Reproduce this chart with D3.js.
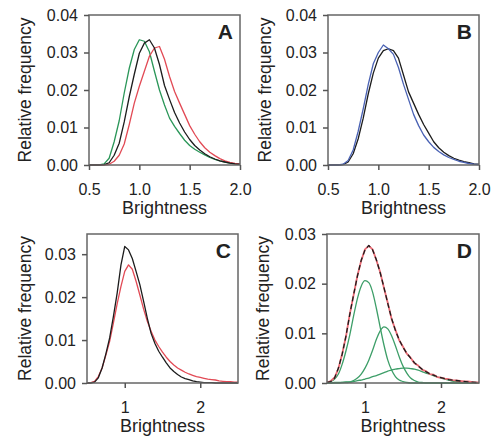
<!DOCTYPE html>
<html>
<head>
<meta charset="utf-8">
<script src="https://cdn.jsdelivr.net/npm/d3@7"></script>
<style>
  body { margin: 0; background: #fff; }
  text { font-family: "Liberation Sans", Arial, sans-serif; fill: #222; }
</style>
</head>
<body>
<div id="chart"></div>
<script>
// brightness bins, panels A and B
const brightnessAB = [0.50, 0.55, 0.60, 0.65, 0.70, 0.75, 0.80, 0.85, 0.90, 0.95,
  1.00, 1.05, 1.10, 1.15, 1.20, 1.25, 1.30, 1.35, 1.40, 1.45,
  1.50, 1.55, 1.60, 1.65, 1.70, 1.75, 1.80, 1.85, 1.90, 1.95, 2.00];

// brightness bins, panels C and D
const brightnessCD = [0.50, 0.55, 0.60, 0.65, 0.70, 0.75, 0.80, 0.85, 0.90, 0.95,
  1.00, 1.05, 1.10, 1.15, 1.20, 1.25, 1.30, 1.35, 1.40, 1.45,
  1.50, 1.55, 1.60, 1.65, 1.70, 1.75, 1.80, 1.85, 1.90, 1.95,
  2.00, 2.05, 2.10, 2.15, 2.20, 2.25, 2.30, 2.35, 2.40, 2.45, 2.50];

// panel A
const aGreen = [0, 0, 0, 0.0003, 0.0018, 0.0062, 0.0118, 0.0192, 0.0258, 0.0308,
  0.0334, 0.0330, 0.0302, 0.0250, 0.0200, 0.0160, 0.0125, 0.0103, 0.0084, 0.0066,
  0.0052, 0.0042, 0.0034, 0.0027, 0.0020, 0.0015, 0.0011, 0.0008, 0.0005, 0.0003, 0.0002];
const aBlack = [0, 0, 0, 0.0001, 0.0006, 0.0026, 0.0058, 0.0115, 0.0182, 0.0242,
  0.0298, 0.0325, 0.0334, 0.0312, 0.0268, 0.0212, 0.0175, 0.0140, 0.0112, 0.0088,
  0.0068, 0.0052, 0.0040, 0.0030, 0.0022, 0.0016, 0.0011, 0.0008, 0.0005, 0.0003, 0.0002];
const aRed = [0, 0, 0, 0, 0.0002, 0.0010, 0.0026, 0.0056, 0.0108, 0.0165,
  0.0210, 0.0250, 0.0290, 0.0312, 0.0316, 0.0282, 0.0236, 0.0196, 0.0165, 0.0135,
  0.0105, 0.0082, 0.0062, 0.0046, 0.0034, 0.0025, 0.0017, 0.0011, 0.0007, 0.0004, 0.0002];

// panel B
const bBlue = [0, 0, 0, 0.0002, 0.0012, 0.0040, 0.0090, 0.0150, 0.0215, 0.0270,
  0.0300, 0.0320, 0.0310, 0.0295, 0.0260, 0.0215, 0.0175, 0.0135, 0.0105, 0.0080,
  0.0062, 0.0047, 0.0036, 0.0027, 0.0020, 0.0015, 0.0010, 0.0007, 0.0004, 0.0002, 0.0001];
const bBlack = [0, 0, 0, 0.0001, 0.0008, 0.0030, 0.0070, 0.0125, 0.0190, 0.0245,
  0.0285, 0.0305, 0.0310, 0.0305, 0.0285, 0.0240, 0.0195, 0.0165, 0.0135, 0.0108,
  0.0085, 0.0062, 0.0046, 0.0034, 0.0025, 0.0018, 0.0013, 0.0009, 0.0006, 0.0003, 0.0002];

// panel C
const cBlack = [0, 0, 0.0002, 0.0012, 0.0035, 0.0068, 0.0105, 0.0155, 0.0210, 0.0275,
  0.0318, 0.0310, 0.0290, 0.0260, 0.0229, 0.0190, 0.0150, 0.0115, 0.0092, 0.0074,
  0.0060, 0.0047, 0.0035, 0.0027, 0.0020, 0.0014, 0.0010, 0.0008, 0.0005, 0.0003,
  0.0002, 0.0001, 0.0001, 0.0001, 0, 0, 0, 0, 0, 0, 0];
const cRed = [0, 0.0001, 0.0004, 0.0015, 0.0035, 0.0065, 0.0097, 0.0140, 0.0185, 0.0225,
  0.0260, 0.0275, 0.0265, 0.0237, 0.0205, 0.0172, 0.0143, 0.0120, 0.0100, 0.0085,
  0.0072, 0.0060, 0.0050, 0.0042, 0.0035, 0.0030, 0.0025, 0.0021, 0.0018, 0.0015,
  0.0013, 0.0011, 0.0009, 0.0008, 0.0007, 0.0005, 0.0004, 0.0003, 0.0003, 0.0002, 0.0002];

// panel D: measured data, fit and three fitted components
const dRed = [0.0001, 0.0004, 0.0011, 0.0029, 0.0059, 0.0094, 0.0139, 0.0177, 0.0216, 0.0246,
  0.0269, 0.0276, 0.0269, 0.0247, 0.0223, 0.0191, 0.0161, 0.0129, 0.0107, 0.0086,
  0.0073, 0.0059, 0.0051, 0.0040, 0.0035, 0.0027, 0.0024, 0.0018, 0.0017, 0.0012,
  0.0011, 0.0009, 0.0008, 0.0006, 0.0005, 0.0004, 0.0003, 0.0003, 0.0002, 0.0001, 0.0001];
const dFit = [0.0001, 0.0003, 0.0010, 0.0030, 0.0058, 0.0095, 0.0138, 0.0178, 0.0215, 0.0247,
  0.0268, 0.0277, 0.0268, 0.0248, 0.0222, 0.0192, 0.0160, 0.0130, 0.0106, 0.0087,
  0.0072, 0.0060, 0.0050, 0.0041, 0.0034, 0.0028, 0.0023, 0.0019, 0.0016, 0.0013,
  0.0011, 0.0009, 0.0007, 0.0006, 0.0005, 0.0004, 0.0003, 0.0002, 0.0002, 0.0001, 0.0001];
const dComp1 = [0.0001, 0.0003, 0.0008, 0.0018, 0.0038, 0.0065, 0.0097, 0.0135, 0.0170, 0.0195,
  0.0206, 0.0202, 0.0183, 0.0150, 0.0112, 0.0076, 0.0046, 0.0026, 0.0013, 0.0006,
  0.0003, 0.0001, 0, 0, 0, 0, 0, 0, 0, 0,
  0, 0, 0, 0, 0, 0, 0, 0, 0, 0, 0];
const dComp2 = [0, 0, 0, 0, 0.0001, 0.0001, 0.0002, 0.0005, 0.0010, 0.0018,
  0.0030, 0.0046, 0.0066, 0.0088, 0.0105, 0.0113, 0.0109, 0.0095, 0.0075, 0.0053,
  0.0034, 0.0020, 0.0010, 0.0005, 0.0002, 0.0001, 0, 0, 0, 0,
  0, 0, 0, 0, 0, 0, 0, 0, 0, 0, 0];
const dComp3 = [0, 0, 0.0001, 0.0001, 0.0001, 0.0002, 0.0002, 0.0003, 0.0005, 0.0006,
  0.0008, 0.0010, 0.0013, 0.0015, 0.0018, 0.0021, 0.0024, 0.0026, 0.0028, 0.0029,
  0.0030, 0.0030, 0.0029, 0.0028, 0.0026, 0.0023, 0.0020, 0.0018, 0.0015, 0.0012,
  0.0010, 0.0008, 0.0006, 0.0004, 0.0003, 0.0002, 0.0002, 0.0001, 0.0001, 0.0001, 0];

const ticksAB = [0.5, 1.0, 1.5, 2.0];
const ticksCD = [1, 2];
const yTicks4 = [0, 0.01, 0.02, 0.03, 0.04];
const yTicks3 = [0, 0.01, 0.02, 0.03];

const svg = d3.select("#chart").append("svg")
  .attr("width", 501)
  .attr("height", 437);

svg.append("rect").attr("width", 501).attr("height", 437).attr("fill", "#fff");

const green = "#2a9658", red = "#e24a55", black = "#1c1c1c", blue = "#4a62b4";

const panels = [
  { letter: "A", left: 89, top: 15, w: 151, h: 150, xDomain: [0.5, 2.0], yDomain: [0, 0.04],
    xTicks: ticksAB, xFmt: d3.format(".1f"), yTicks: yTicks4, bins: brightnessAB, titleX: 25,
    series: [
      { values: aGreen, color: green },
      { values: aRed, color: red },
      { values: aBlack, color: black }
    ] },
  { letter: "B", left: 328, top: 15, w: 151, h: 150, xDomain: [0.5, 2.0], yDomain: [0, 0.04],
    xTicks: ticksAB, xFmt: d3.format(".1f"), yTicks: yTicks4, bins: brightnessAB, titleX: 265,
    series: [
      { values: bBlack, color: black },
      { values: bBlue, color: blue }
    ] },
  { letter: "C", left: 87, top: 234, w: 151, h: 149, xDomain: [0.5, 2.5], yDomain: [0, 0.0347],
    xTicks: ticksCD, xFmt: d3.format("d"), yTicks: yTicks3, bins: brightnessCD, titleX: 25,
    series: [
      { values: cRed, color: red },
      { values: cBlack, color: black }
    ] },
  { letter: "D", left: 327, top: 234, w: 152, h: 149, xDomain: [0.5, 2.5], yDomain: [0, 0.03],
    xTicks: ticksCD, xFmt: d3.format("d"), yTicks: yTicks3, bins: brightnessCD, titleX: 263,
    series: [
      { values: dComp1, color: "#3d9e68", smooth: true },
      { values: dComp2, color: "#3d9e68", smooth: true },
      { values: dComp3, color: "#3d9e68", smooth: true },
      { values: dRed, color: "#ea6a74", width: 1.8 },
      { values: dFit, color: black, dash: "5,3" }
    ] }
];

panels.forEach(p => {
  const g = svg.append("g").attr("transform", `translate(${p.left},${p.top})`);

  const x = d3.scaleLinear().domain(p.xDomain).range([0, p.w]);
  const y = d3.scaleLinear().domain(p.yDomain).range([p.h, 0]);

  // curves
  p.series.forEach(s => {
    const line = d3.line()
      .x((d, i) => x(p.bins[i]))
      .y(d => y(d))
      .curve(s.smooth ? d3.curveMonotoneX : d3.curveLinear);
    g.append("path")
      .datum(s.values)
      .attr("fill", "none")
      .attr("stroke", s.color)
      .attr("stroke-width", s.width || 1.3)
      .attr("stroke-dasharray", s.dash || null)
      .attr("stroke-linejoin", "round")
      .attr("d", line);
  });

  // frame
  g.append("rect")
    .attr("width", p.w)
    .attr("height", p.h)
    .attr("fill", "none")
    .attr("stroke", "#666")
    .attr("stroke-width", 1.5);

  // axes
  const xAxis = g.append("g")
    .attr("transform", `translate(0,${p.h})`)
    .call(d3.axisBottom(x).tickValues(p.xTicks).tickFormat(p.xFmt).tickSize(5).tickPadding(14));
  const yAxis = g.append("g")
    .call(d3.axisLeft(y).tickValues(p.yTicks).tickFormat(d3.format(".2f")).tickSize(5).tickPadding(6));

  [xAxis, yAxis].forEach(a => {
    a.select(".domain").remove();
    a.selectAll(".tick line").attr("stroke", "#555").attr("stroke-width", 1.5);
    a.selectAll(".tick text").style("font-size", "16px").attr("fill", "#222");
  });

  // axis titles
  g.append("text")
    .attr("x", p.w / 2)
    .attr("y", p.h + 49)
    .attr("text-anchor", "middle")
    .style("font-size", "18px")
    .text("Brightness");

  svg.append("text")
    .attr("transform", `translate(${p.titleX},${p.top + p.h / 2}) rotate(-90)`)
    .attr("text-anchor", "middle")
    .attr("dy", "0.35em")
    .style("font-size", "17.5px")
    .text("Relative frequency");

  // panel letter
  g.append("text")
    .attr("x", p.w - 7)
    .attr("y", 24)
    .attr("text-anchor", "end")
    .style("font-size", "21px")
    .style("font-weight", "bold")
    .text(p.letter);
});
</script>
</body>
</html>
